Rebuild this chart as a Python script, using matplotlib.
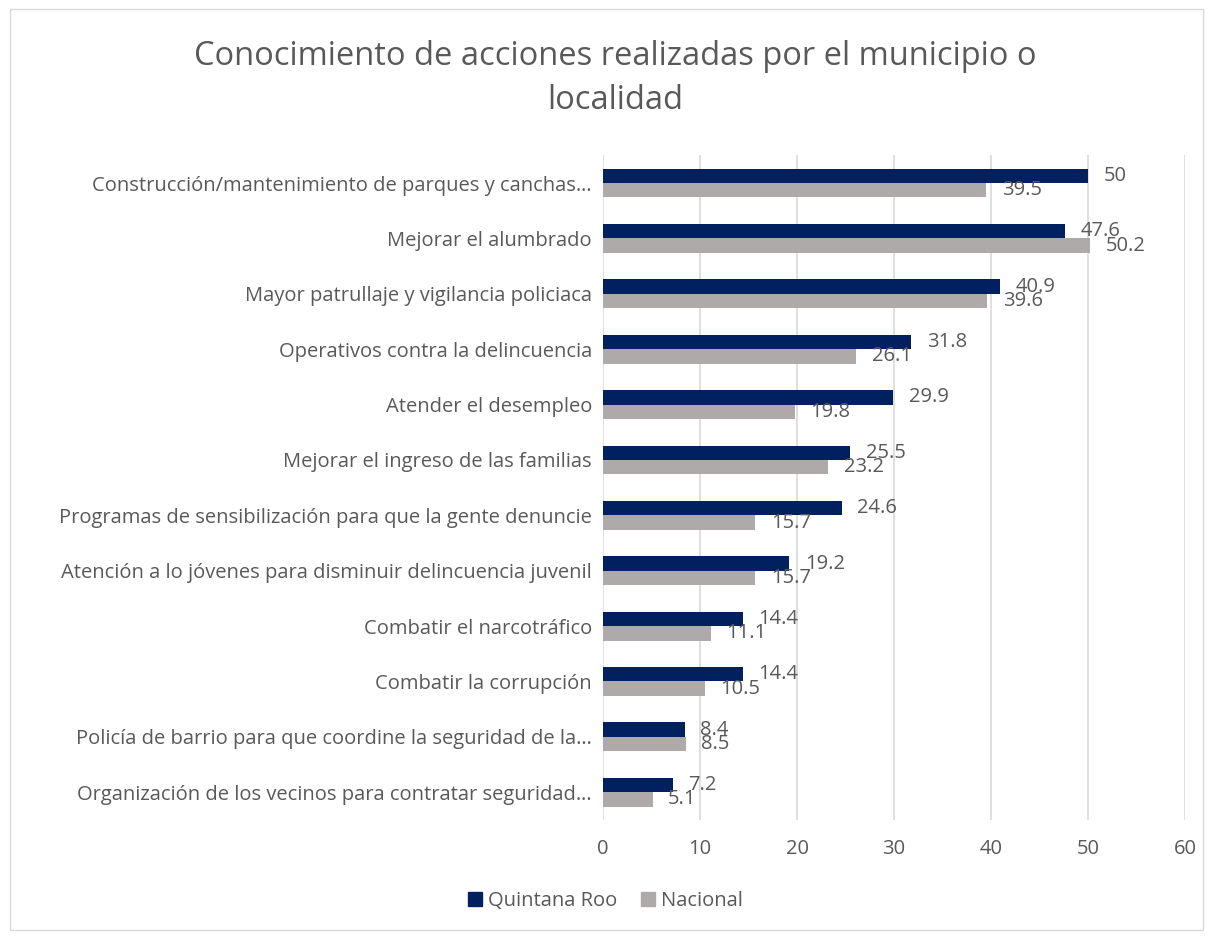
import matplotlib.pyplot as plt
import matplotlib.patches as mpatches
import numpy as np

plt.rcParams['font.family'] = ['Open Sans', 'DejaVu Sans']

categorias = [
    'Construcción/mantenimiento de parques y canchas…',
    'Mejorar el alumbrado',
    'Mayor patrullaje y vigilancia policiaca',
    'Operativos contra la delincuencia',
    'Atender el desempleo',
    'Mejorar el ingreso de las familias',
    'Programas de sensibilización para que la gente denuncie',
    'Atención a lo jóvenes para disminuir delincuencia juvenil',
    'Combatir el narcotráfico',
    'Combatir la corrupción',
    'Policía de barrio para que coordine la seguridad de la…',
    'Organización de los vecinos para contratar seguridad…',
]
quintana_roo = [50, 47.6, 40.9, 31.8, 29.9, 25.5, 24.6, 19.2, 14.4, 14.4, 8.4, 7.2]
nacional = [39.5, 50.2, 39.6, 26.1, 19.8, 23.2, 15.7, 15.7, 11.1, 10.5, 8.5, 5.1]

C_QR = '#002060'
C_NAC = '#AEAAAA'
TXT = '#595959'

fig = plt.figure(figsize=(12.11, 9.36), dpi=100)
ax = fig.add_axes([0.498, 0.124, 0.4805, 0.71])

y = np.arange(len(categorias))
h = 0.26
ax.barh(y - h / 2, quintana_roo, height=h, color=C_QR, zorder=3)
ax.barh(y + h / 2, nacional, height=h, color=C_NAC, zorder=3)

# etiquetas de valor
for i in range(len(categorias)):
    ax.text(quintana_roo[i] + 1.6, y[i] - h / 2, f'{quintana_roo[i]:g}', va='center',
            ha='left', fontsize=14.5, color=TXT)
    ax.text(nacional[i] + 1.6, y[i] + h / 2, f'{nacional[i]:g}', va='center',
            ha='left', fontsize=14.5, color=TXT)

ax.set_xlim(0, 60)
ax.set_ylim(len(categorias) - 0.5, -0.5)
ax.set_xticks(range(0, 61, 10))
ax.set_yticks(y)
ax.set_yticklabels(categorias)
ax.tick_params(axis='both', length=0, labelsize=14.5, labelcolor=TXT)
ax.tick_params(axis='x', pad=14)
ax.tick_params(axis='y', pad=8)
ax.xaxis.grid(True, color='#D9D9D9', linewidth=1.2, zorder=0)
for s in ax.spines.values():
    s.set_visible(False)

fig.text(0.508, 0.916, 'Conocimiento de acciones realizadas por el municipio o\nlocalidad',
         ha='center', va='center', fontsize=23.5, color=TXT, linespacing=1.45)

fig.legend(handles=[mpatches.Patch(color=C_QR, label='Quintana Roo'),
                    mpatches.Patch(color=C_NAC, label='Nacional')],
           loc='center', bbox_to_anchor=(0.5, 0.037), ncol=2, frameon=False,
           fontsize=14.5, labelcolor=TXT, handlelength=0.7, handleheight=0.7,
           handletextpad=0.3, columnspacing=1.2)

fig.patches.append(mpatches.Rectangle((0.008, 0.006), 0.985, 0.984, transform=fig.transFigure,
                                      fill=False, edgecolor='#D9D9D9', linewidth=1))

fig.savefig('out.png', dpi=100)
